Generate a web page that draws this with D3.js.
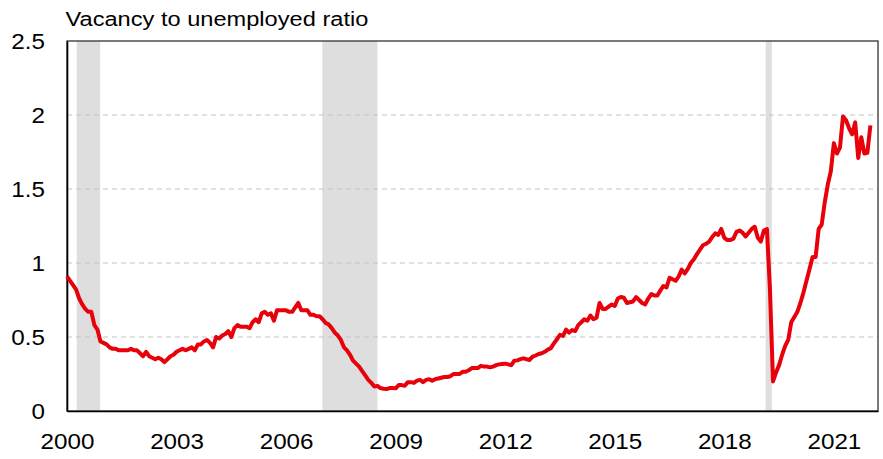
<!DOCTYPE html>
<html>
<head>
<meta charset="utf-8">
<script src="https://cdn.jsdelivr.net/npm/d3@7"></script>
<style>
  html, body { margin: 0; padding: 0; background: #fff; }
  text { font-family: "Liberation Sans", Arial, sans-serif; fill: #000; }
</style>
</head>
<body>
<svg id="chart" width="883" height="459"></svg>
<script>
// Monthly vacancy-to-unemployed ratio, starting Dec 2000 (index 0)
const ratio = [
0.91,0.88,0.85,0.82,0.76,0.72,0.69,0.67,0.67,0.58,0.55,0.47,
0.46,0.45,0.43,0.42,0.42,0.41,0.41,0.41,0.41,0.42,0.41,0.41,
0.39,0.37,0.40,0.37,0.36,0.35,0.36,0.35,0.33,0.35,0.37,0.38,
0.40,0.41,0.42,0.41,0.42,0.43,0.41,0.45,0.45,0.47,0.48,0.46,
0.43,0.50,0.49,0.51,0.52,0.54,0.50,0.56,0.58,0.57,0.57,0.57,
0.56,0.60,0.62,0.60,0.66,0.67,0.65,0.66,0.61,0.68,0.68,0.68,
0.68,0.67,0.67,0.70,0.73,0.68,0.68,0.68,0.65,0.65,0.64,0.64,
0.62,0.595,0.585,0.56,0.53,0.51,0.48,0.43,0.41,0.38,0.34,0.32,
0.30,0.27,0.24,0.21,0.19,0.165,0.17,0.155,0.15,0.148,0.155,0.155,
0.153,0.175,0.175,0.17,0.195,0.195,0.19,0.205,0.21,0.195,0.21,0.215,
0.205,0.215,0.22,0.225,0.23,0.23,0.235,0.25,0.25,0.25,0.265,0.265,
0.275,0.29,0.29,0.29,0.305,0.30,0.30,0.295,0.30,0.31,0.315,0.318,
0.32,0.315,0.31,0.34,0.342,0.35,0.356,0.35,0.345,0.367,0.375,0.385,
0.39,0.40,0.415,0.425,0.457,0.485,0.515,0.507,0.55,0.53,0.547,0.54,
0.58,0.60,0.62,0.61,0.645,0.62,0.63,0.73,0.69,0.69,0.705,0.72,
0.71,0.76,0.77,0.765,0.73,0.735,0.74,0.77,0.75,0.73,0.72,0.76,
0.79,0.78,0.78,0.815,0.845,0.835,0.90,0.89,0.88,0.91,0.955,0.93,
0.96,1.00,1.025,1.06,1.09,1.12,1.13,1.145,1.175,1.20,1.19,1.23,
1.17,1.155,1.155,1.165,1.21,1.22,1.205,1.18,1.205,1.23,1.245,1.17,
1.145,1.22,1.23,0.82,0.20,0.26,0.31,0.38,0.44,0.48,0.60,0.635,
0.67,0.73,0.80,0.88,0.96,1.04,1.04,1.23,1.26,1.41,1.53,1.62,
1.81,1.74,1.78,1.99,1.965,1.91,1.87,1.95,1.71,1.85,1.74,1.745,
1.93
];

// Recession shading, in month-index units from Dec 2000
const recessionStart = [3.2, 83.9, 229.6];
const recessionEnd   = [10.9, 102.0, 231.6];

// X-axis tick positions (month index) and labels
const xTickIndex  = [0, 36, 72, 108, 144, 180, 216, 252];
const xTickLabels = ["2000", "2003", "2006", "2009", "2012", "2015", "2018", "2021"];

// Y-axis ticks
const yTicks = [0, 0.5, 1, 1.5, 2, 2.5];
const yTickLabels = ["0", "0.5", "1", "1.5", "2", "2.5"];
const gridValues = [0.5, 1, 1.5, 2];

const title = "Vacancy to unemployed ratio";

(function () {
const svg = d3.select("#chart");
const pL = 67, pR = 878, pT = 41, pB = 411;
const stretch = 1.1;

const x = d3.scaleLinear().domain([0, 266.5]).range([pL, pR]);
const y = d3.scaleLinear().domain([0, 2.5]).range([pB, pT]);

// recession shading
svg.append("g").selectAll("rect")
  .data(recessionStart.map((s, i) => ({ s, e: recessionEnd[i] })))
  .join("rect")
  .attr("x", d => x(d.s))
  .attr("width", d => x(d.e) - x(d.s))
  .attr("y", pT)
  .attr("height", pB - pT)
  .attr("fill", "#dedede");

// gridlines
svg.append("g").selectAll("line")
  .data(gridValues)
  .join("line")
  .attr("x1", pL).attr("x2", pR)
  .attr("y1", d => y(d)).attr("y2", d => y(d))
  .attr("stroke", "#c4c4c4")
  .attr("stroke-width", 1.2)
  .attr("stroke-dasharray", "5,4");

// frame
svg.append("rect")
  .attr("x", pL).attr("y", pT)
  .attr("width", pR - pL).attr("height", pB - pT)
  .attr("fill", "none")
  .attr("stroke", "#333")
  .attr("stroke-width", 1.3);

// left & bottom axes (no tick marks)
const yAxis = d3.axisLeft(y).tickValues(yTicks)
  .tickFormat((d, i) => yTickLabels[i]).tickSize(0).tickPadding(22);
const gy = svg.append("g").attr("transform", `translate(${pL},0)`).call(yAxis);
gy.select(".domain").attr("stroke", "#000").attr("stroke-width", 1.6);
gy.selectAll("text")
  .attr("font-size", 22)
  .attr("font-family", "'Liberation Sans', Arial, sans-serif")
  .attr("fill", "#000")
  .attr("x", 0)
  .attr("dy", "0.35em")
  .attr("transform", `translate(-22,0) scale(${stretch},1)`);

const xAxis = d3.axisBottom(x).tickValues(xTickIndex)
  .tickFormat((d, i) => xTickLabels[i]).tickSize(0).tickPadding(22);
const gx = svg.append("g").attr("transform", `translate(0,${pB})`).call(xAxis);
gx.select(".domain").attr("stroke", "#000").attr("stroke-width", 1.6);
gx.selectAll("text")
  .attr("font-size", 22)
  .attr("font-family", "'Liberation Sans', Arial, sans-serif")
  .attr("fill", "#000")
  .attr("transform", `scale(${stretch},1)`);

// line
const line = d3.line()
  .x((d, i) => x(i))
  .y(d => y(d));
svg.append("path")
  .datum(ratio)
  .attr("d", line)
  .attr("fill", "none")
  .attr("stroke", "#e8000b")
  .attr("stroke-width", 4)
  .attr("stroke-linejoin", "round");

// title
svg.append("text")
  .attr("transform", "translate(65.5,26) scale(1.125,1)")
  .attr("font-size", 21)
  .text(title);
})();
</script>
</body>
</html>
